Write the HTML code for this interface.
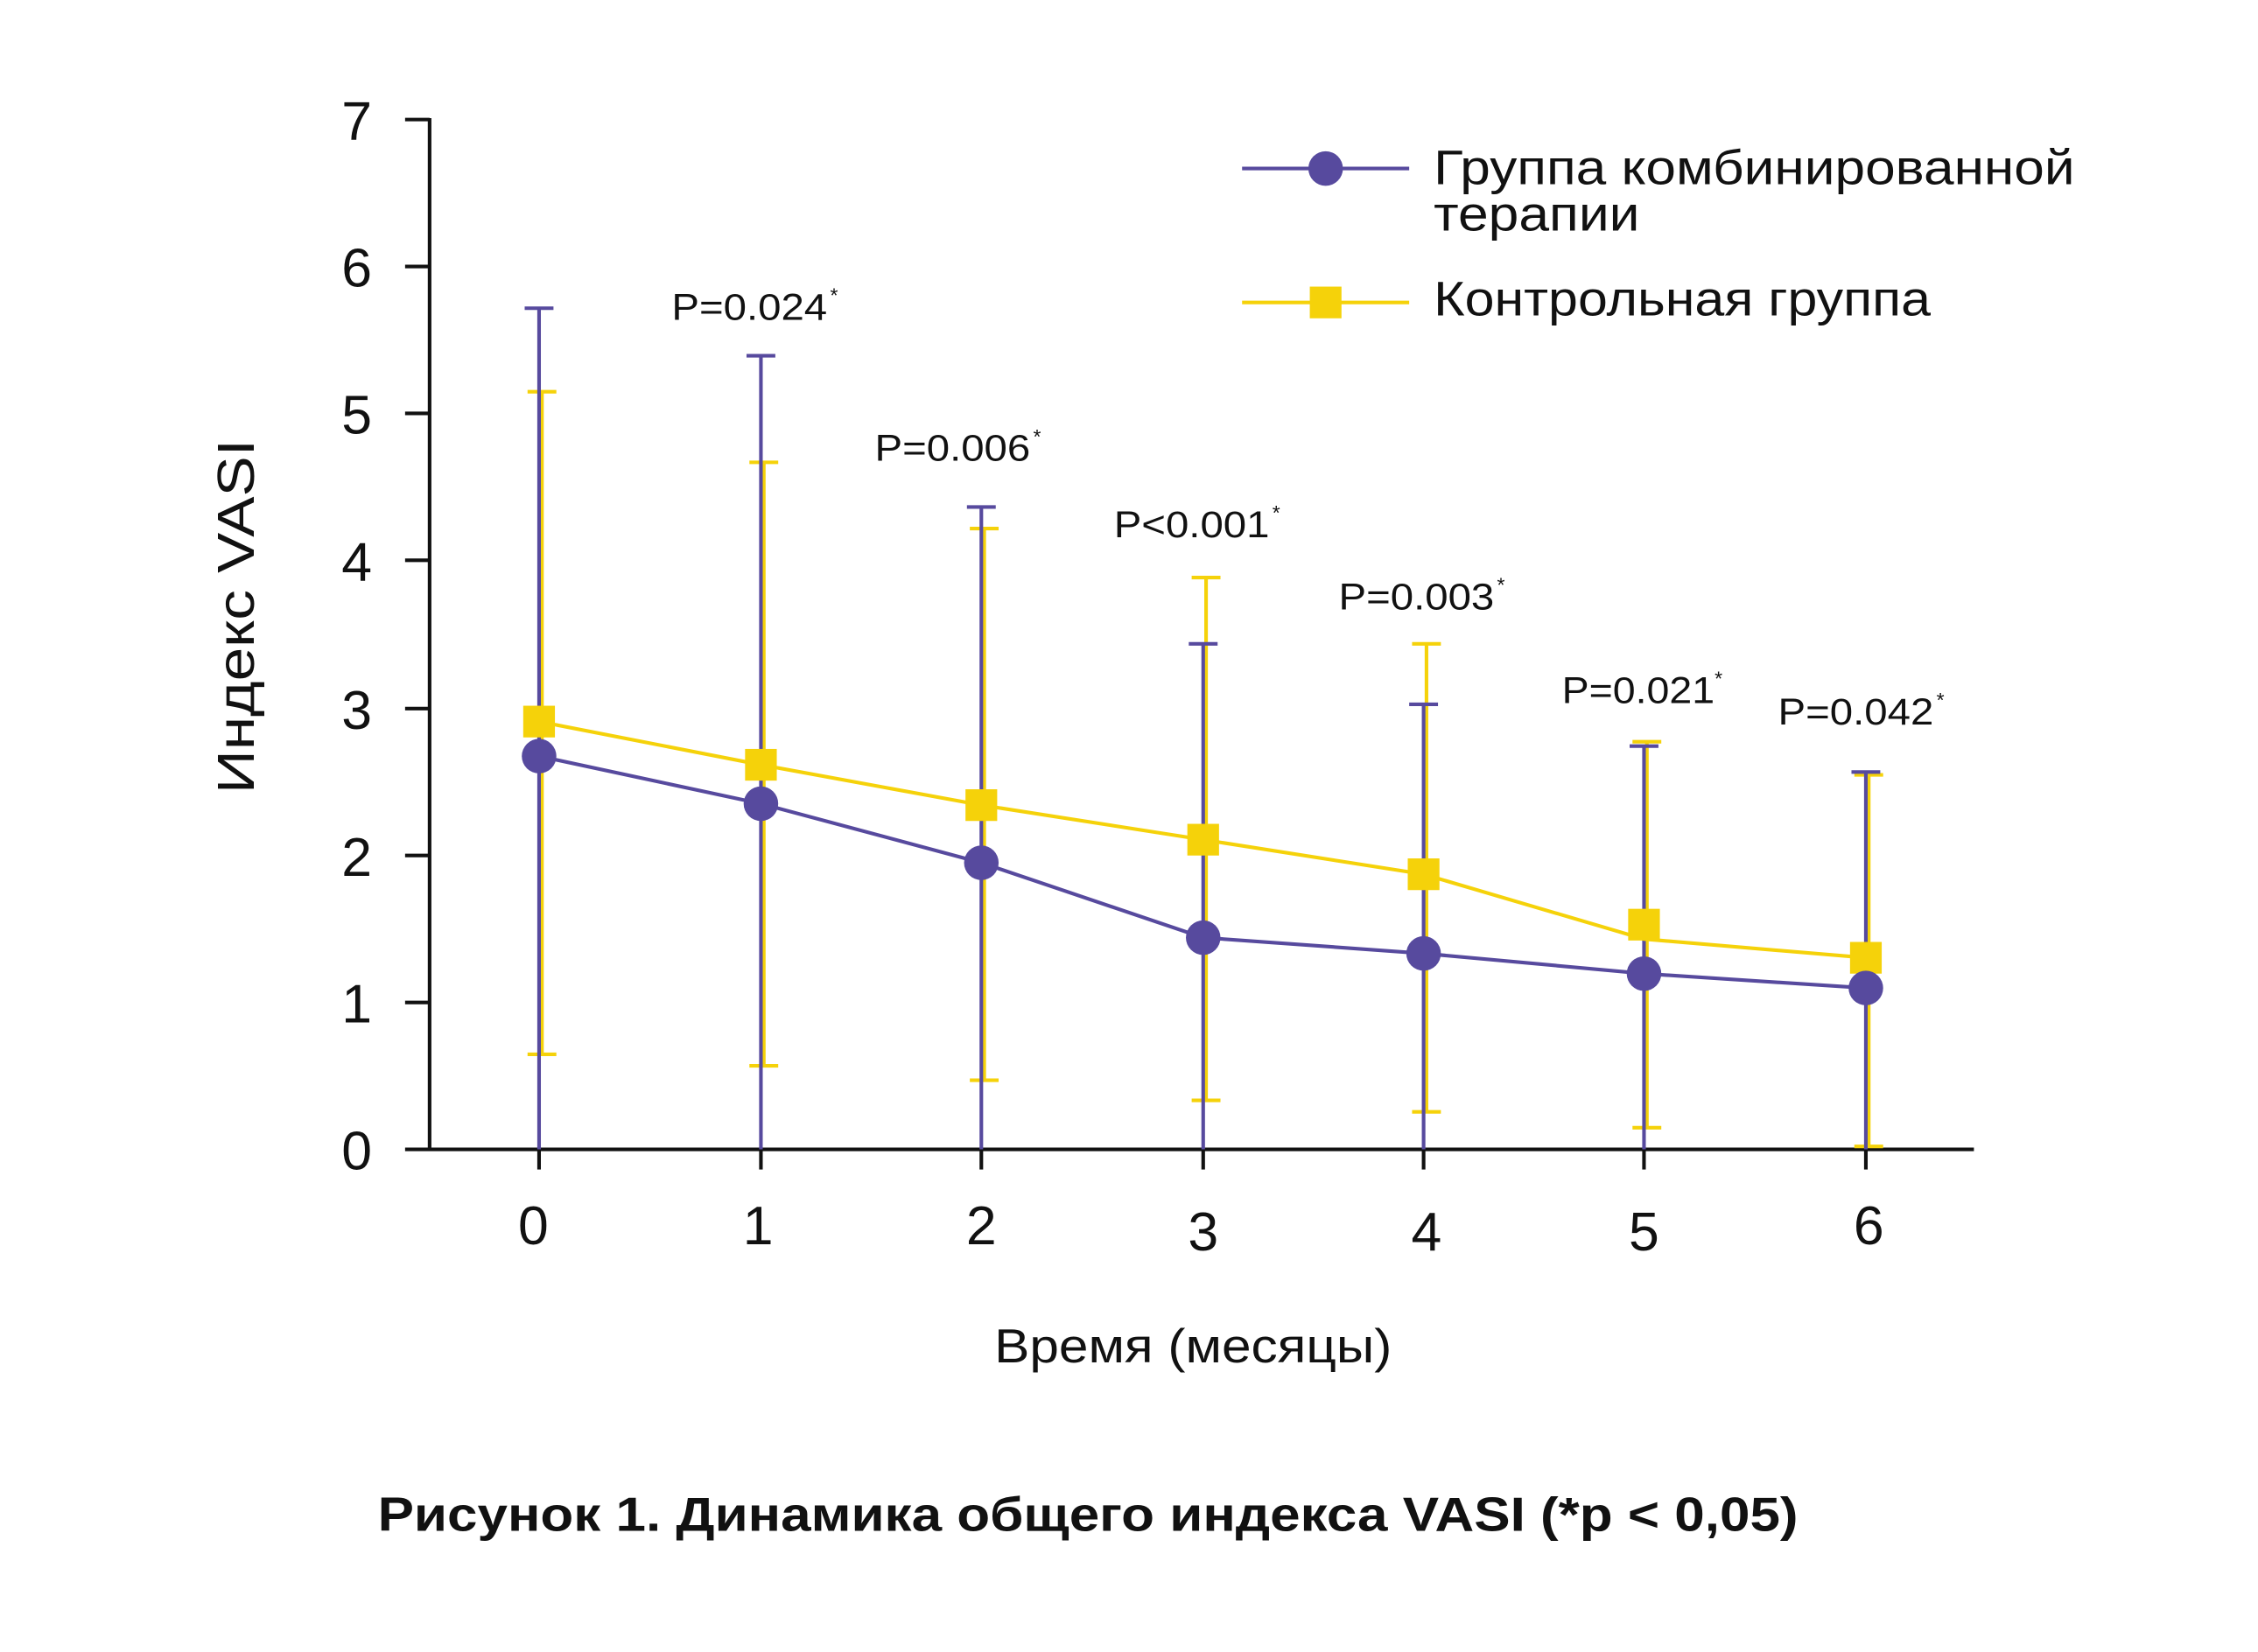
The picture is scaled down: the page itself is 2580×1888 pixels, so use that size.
<!DOCTYPE html>
<html><head><meta charset="utf-8"><style>html,body{margin:0;padding:0;background:#fff}svg{display:block}</style></head><body>
<svg width="2580" height="1888" viewBox="0 0 1567 1147" xmlns="http://www.w3.org/2000/svg" font-family="Liberation Sans, sans-serif">
<rect width="1567" height="1147" fill="#fff"/>
<g stroke="#111" stroke-width="2.5" fill="none">
<line x1="298" y1="82" x2="298" y2="799"/>
<line x1="281" y1="798" x2="1370" y2="798"/>
<line x1="281" y1="83" x2="298" y2="83"/><line x1="281" y1="185" x2="298" y2="185"/>
<line x1="281" y1="287" x2="298" y2="287"/><line x1="281" y1="389" x2="298" y2="389"/>
<line x1="281" y1="492" x2="298" y2="492"/><line x1="281" y1="594" x2="298" y2="594"/>
<line x1="281" y1="696" x2="298" y2="696"/>
<line x1="374" y1="798" x2="374" y2="812"/><line x1="528" y1="798" x2="528" y2="812"/>
<line x1="681" y1="798" x2="681" y2="812"/><line x1="835" y1="798" x2="835" y2="812"/>
<line x1="988" y1="798" x2="988" y2="812"/><line x1="1141" y1="798" x2="1141" y2="812"/>
<line x1="1295" y1="798" x2="1295" y2="812"/>
</g>
<g font-size="38" fill="#111" text-anchor="end">
<text x="258" y="97">7</text><text x="258" y="199">6</text><text x="258" y="301">5</text>
<text x="258" y="403">4</text><text x="258" y="506">3</text><text x="258" y="608">2</text>
<text x="258" y="710">1</text><text x="258" y="812">0</text>
</g>
<g font-size="38" fill="#111" text-anchor="middle">
<text x="370" y="864">0</text><text x="526" y="864">1</text><text x="681" y="864">2</text>
<text x="835" y="868">3</text><text x="990" y="868">4</text><text x="1141" y="868">5</text>
<text x="1297" y="864">6</text>
</g>
<text transform="translate(176,428) rotate(-90)" font-size="36" text-anchor="middle" fill="#111" textLength="246" lengthAdjust="spacingAndGlyphs">Индекс  VASI</text>
<text x="690" y="946" font-size="33" fill="#111" textLength="276" lengthAdjust="spacingAndGlyphs">Время (месяцы)</text>
<text x="262" y="1063" font-size="33" font-weight="bold" fill="#111" textLength="986" lengthAdjust="spacingAndGlyphs">Рисунок 1. Динамика общего индекса VASI (*p &lt; 0,05)</text>
<g font-size="26" fill="#111">
<text x="466" y="222" textLength="108" lengthAdjust="spacingAndGlyphs">P=0.024</text><text x="576" y="210" font-size="14">*</text>
<text x="607" y="320" textLength="108" lengthAdjust="spacingAndGlyphs">P=0.006</text><text x="717" y="308" font-size="14">*</text>
<text x="773" y="373" textLength="108" lengthAdjust="spacingAndGlyphs">P&lt;0.001</text><text x="883" y="361" font-size="14">*</text>
<text x="929" y="423" textLength="108" lengthAdjust="spacingAndGlyphs">P=0.003</text><text x="1039" y="411" font-size="14">*</text>
<text x="1084" y="488" textLength="106" lengthAdjust="spacingAndGlyphs">P=0.021</text><text x="1190" y="476" font-size="14">*</text>
<text x="1234" y="503" textLength="108" lengthAdjust="spacingAndGlyphs">P=0.042</text><text x="1344" y="491" font-size="14">*</text>
</g>
<g stroke="#f5d20a" stroke-width="2.5">
<line x1="376" y1="272" x2="376" y2="732"/><line x1="366" y1="272" x2="386" y2="272"/><line x1="366" y1="732" x2="386" y2="732"/>
<line x1="530" y1="321" x2="530" y2="740"/><line x1="520" y1="321" x2="540" y2="321"/><line x1="520" y1="740" x2="540" y2="740"/>
<line x1="683" y1="367" x2="683" y2="750"/><line x1="673" y1="367" x2="693" y2="367"/><line x1="673" y1="750" x2="693" y2="750"/>
<line x1="837" y1="401" x2="837" y2="764"/><line x1="827" y1="401" x2="847" y2="401"/><line x1="827" y1="764" x2="847" y2="764"/>
<line x1="990" y1="447" x2="990" y2="772"/><line x1="980" y1="447" x2="1000" y2="447"/><line x1="980" y1="772" x2="1000" y2="772"/>
<line x1="1143" y1="515" x2="1143" y2="783"/><line x1="1133" y1="515" x2="1153" y2="515"/><line x1="1133" y1="783" x2="1153" y2="783"/>
<line x1="1297" y1="538" x2="1297" y2="796"/><line x1="1287" y1="538" x2="1307" y2="538"/><line x1="1287" y1="796" x2="1307" y2="796"/>
</g>
<g stroke="#574a9e" stroke-width="2.5">
<line x1="374" y1="214" x2="374" y2="798"/><line x1="364" y1="214" x2="384" y2="214"/>
<line x1="528" y1="247" x2="528" y2="798"/><line x1="518" y1="247" x2="538" y2="247"/>
<line x1="681" y1="352" x2="681" y2="798"/><line x1="671" y1="352" x2="691" y2="352"/>
<line x1="835" y1="447" x2="835" y2="798"/><line x1="825" y1="447" x2="845" y2="447"/>
<line x1="988" y1="489" x2="988" y2="798"/><line x1="978" y1="489" x2="998" y2="489"/>
<line x1="1141" y1="518" x2="1141" y2="798"/><line x1="1131" y1="518" x2="1151" y2="518"/>
<line x1="1295" y1="536" x2="1295" y2="798"/><line x1="1285" y1="536" x2="1305" y2="536"/>
</g>
<polyline fill="none" stroke="#f5d20a" stroke-width="2.5" points="374,501 528,531 681,559 835,583 988,607 1141,652 1295,665"/>
<g fill="#f5d20a">
<rect x="363" y="490" width="22" height="22"/><rect x="517" y="520" width="22" height="22"/>
<rect x="670" y="548" width="22" height="22"/><rect x="824" y="572" width="22" height="22"/>
<rect x="977" y="596" width="22" height="22"/><rect x="1130" y="631" width="22" height="22"/>
<rect x="1284" y="654" width="22" height="22"/>
</g>
<polyline fill="none" stroke="#574a9e" stroke-width="2.5" points="374,525 528,558 681,599 835,651 988,662 1141,676 1295,686"/>
<g fill="#574a9e">
<circle cx="374" cy="525" r="12"/><circle cx="528" cy="558" r="12"/><circle cx="681" cy="599" r="12"/>
<circle cx="835" cy="651" r="12"/><circle cx="988" cy="662" r="12"/><circle cx="1141" cy="676" r="12"/>
<circle cx="1295" cy="686" r="12"/>
</g>
<line x1="862" y1="117" x2="978" y2="117" stroke="#574a9e" stroke-width="2.5"/>
<circle cx="920" cy="117" r="12" fill="#574a9e"/>
<line x1="862" y1="210" x2="978" y2="210" stroke="#f5d20a" stroke-width="2.5"/>
<rect x="909" y="199" width="22" height="22" fill="#f5d20a"/>
<g font-size="34" fill="#111">
<text x="995" y="128" textLength="445" lengthAdjust="spacingAndGlyphs">Группа комбинированной</text>
<text x="995" y="160" textLength="143" lengthAdjust="spacingAndGlyphs">терапии</text>
<text x="995" y="219" textLength="345" lengthAdjust="spacingAndGlyphs">Контрольная группа</text>
</g>
</svg>
</body></html>
